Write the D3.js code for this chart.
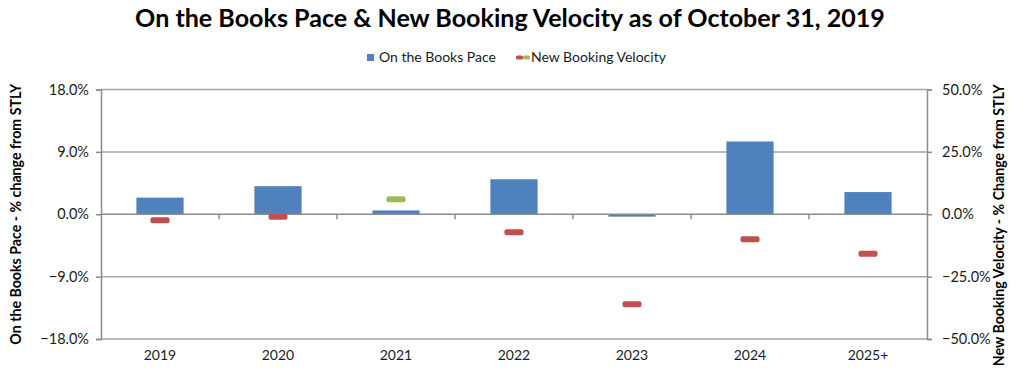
<!DOCTYPE html>
<html>
<head>
<meta charset="utf-8">
<script src="https://cdn.jsdelivr.net/npm/d3@7"></script>
<style>
  body { margin: 0; background: #fff; }
  svg text { font-family: Lato, "Open Sans", sans-serif; fill: #1a1a1a; }
</style>
</head>
<body>
<svg id="chart"></svg>
<script>
const categories = ['2019', '2020', '2021', '2022', '2023', '2024', '2025+'];
const paceValues = [2.4, 4.05, 0.55, 5.05, -0.35, 10.5, 3.2];
const velocityValues = [-2.4, -1.0, 6.0, -7.2, -36.1, -10.0, -15.8];
const leftTicks = [-18, -9, 0, 9, 18];
const rightTicks = [-50, -25, 0, 25, 50];

const width = 1024;
const height = 381;
const plot = { left: 101, right: 927, top: 89.5, bottom: 339 };

const svg = d3.select('#chart')
  .attr('width', width)
  .attr('height', height);

const x = d3.scaleBand()
  .domain(categories)
  .range([plot.left, plot.right])
  .paddingInner(0.6)
  .paddingOuter(0.3);

const xStep = d3.scaleBand().domain(categories).range([plot.left, plot.right]);

const yLeft = d3.scaleLinear().domain([-18, 18]).range([plot.bottom, plot.top]);
const yRight = d3.scaleLinear().domain([-50, 50]).range([plot.bottom, plot.top]);

const pct = d => d3.format('.1f')(d) + '%';

// title, shrunk to the width seen in the picture
const title = svg.append('text')
  .attr('x', 510)
  .attr('y', 27)
  .attr('text-anchor', 'middle')
  .attr('font-weight', 'bold')
  .attr('font-size', 24)
  .style('fill', '#000')
  .text('On the Books Pace & New Booking Velocity as of October 31, 2019');
const tw = title.node().getComputedTextLength();
title.attr('font-size', 24 * 750 / tw);

// grid
svg.append('g')
  .selectAll('line')
  .data(leftTicks.filter(d => d !== 0))
  .enter().append('line')
  .attr('x1', plot.left)
  .attr('x2', plot.right)
  .attr('y1', d => yLeft(d))
  .attr('y2', d => yLeft(d))
  .attr('stroke', '#a6a6a6')
  .attr('stroke-width', 1.5);

// left axis
const leftAxis = svg.append('g')
  .attr('transform', `translate(${plot.left},0)`)
  .call(d3.axisLeft(yLeft).tickValues(leftTicks).tickFormat(pct).tickSize(5).tickPadding(7));

// right axis
const rightAxis = svg.append('g')
  .attr('transform', `translate(${plot.right},0)`)
  .call(d3.axisRight(yRight).tickValues(rightTicks).tickFormat(pct).tickSize(5).tickPadding(10));

[leftAxis, rightAxis].forEach(g => {
  g.select('.domain').attr('stroke', '#8c8c8c').attr('stroke-width', 1.5);
  g.selectAll('.tick line').attr('stroke', '#8c8c8c').attr('stroke-width', 1.5);
  g.selectAll('.tick text').attr('font-size', 14.5).style('fill', '#1a1a1a')
    .attr('font-family', 'Lato, sans-serif');
});

// bars
svg.append('g')
  .selectAll('rect')
  .data(paceValues)
  .enter().append('rect')
  .attr('x', (d, i) => x(categories[i]))
  .attr('width', x.bandwidth())
  .attr('y', d => yLeft(Math.max(0, d)))
  .attr('height', d => Math.abs(yLeft(d) - yLeft(0)))
  .attr('fill', '#4f81bd');

// category axis at zero
svg.append('line')
  .attr('x1', plot.left)
  .attr('x2', plot.right)
  .attr('y1', yLeft(0))
  .attr('y2', yLeft(0))
  .attr('stroke', '#8c8c8c')
  .attr('stroke-width', 1.5);

svg.append('g')
  .selectAll('line')
  .data(categories.slice(1))
  .enter().append('line')
  .attr('x1', d => xStep(d))
  .attr('x2', d => xStep(d))
  .attr('y1', yLeft(0))
  .attr('y2', yLeft(0) + 5)
  .attr('stroke', '#8c8c8c')
  .attr('stroke-width', 1.5);

svg.append('g')
  .selectAll('text')
  .data(categories)
  .enter().append('text')
  .attr('x', d => xStep(d) + xStep.bandwidth() / 2)
  .attr('y', 360)
  .attr('text-anchor', 'middle')
  .attr('font-size', 14)
  .text(d => d);

// velocity dashes
svg.append('g')
  .selectAll('rect')
  .data(velocityValues)
  .enter().append('rect')
  .attr('x', (d, i) => xStep(categories[i]) + xStep.bandwidth() / 2 - 9.5)
  .attr('y', d => yRight(d) - 3)
  .attr('width', 19)
  .attr('height', 6)
  .attr('rx', 2)
  .attr('fill', d => d >= 0 ? '#9bbb59' : '#c0504d');

// axis titles
svg.append('text')
  .attr('transform', `translate(21,${(plot.top + plot.bottom) / 2}) rotate(-90)`)
  .attr('text-anchor', 'middle')
  .attr('font-weight', 'bold')
  .attr('font-size', 14.2)
  .style('fill', '#000')
  .text('On the Books Pace - % change from STLY');

svg.append('text')
  .attr('transform', `translate(1004,${(plot.top + plot.bottom) / 2 + 11}) rotate(-90)`)
  .attr('text-anchor', 'middle')
  .attr('font-weight', 'bold')
  .attr('font-size', 14.2)
  .style('fill', '#000')
  .text('New Booking Velocity - % Change from STLY');

// legend
const legend = svg.append('g');
legend.append('rect')
  .attr('x', 367).attr('y', 54).attr('width', 7).attr('height', 7)
  .attr('fill', '#4f81bd');
legend.append('text')
  .attr('x', 379).attr('y', 62).attr('font-size', 14)
  .text('On the Books Pace');
legend.append('rect')
  .attr('x', 516).attr('y', 55.5).attr('width', 7).attr('height', 4).attr('rx', 1.5)
  .attr('fill', '#c0504d');
legend.append('rect')
  .attr('x', 523).attr('y', 55.5).attr('width', 7).attr('height', 4).attr('rx', 1.5)
  .attr('fill', '#9bbb59');
legend.append('text')
  .attr('x', 531).attr('y', 62).attr('font-size', 14)
  .text('New Booking Velocity');
</script>
</body>
</html>
